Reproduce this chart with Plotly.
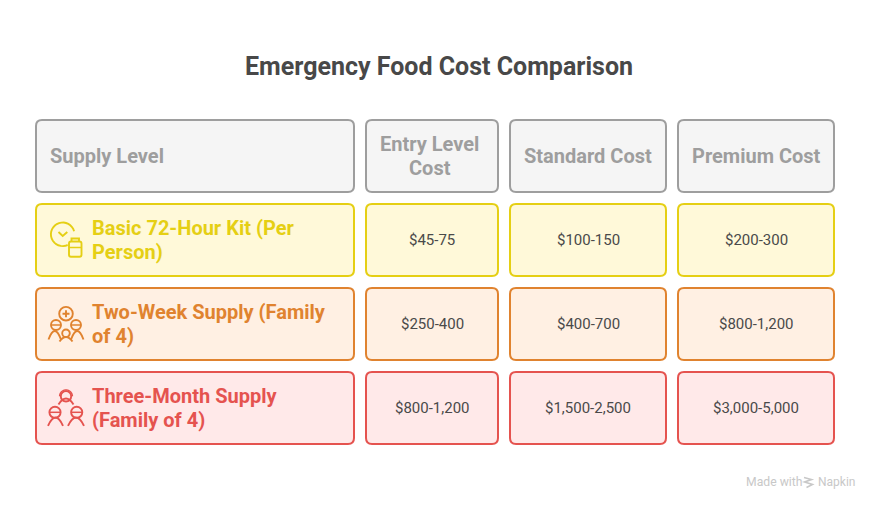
import math
import plotly.graph_objects as go

title = "Emergency Food Cost Comparison"
headers = ["Supply Level", "Entry Level<br>Cost", "Standard Cost", "Premium Cost"]
supply_levels = ["Basic 72-Hour Kit (Per<br>Person)", "Two-Week Supply (Family<br>of 4)", "Three-Month Supply<br>(Family of 4)"]
entry_cost = ["$45-75", "$250-400", "$800-1,200"]
standard_cost = ["$100-150", "$400-700", "$1,500-2,500"]
premium_cost = ["$200-300", "$800-1,200", "$3,000-5,000"]

W, H = 878, 510
COLS = [(36, 354), (366, 498), (510, 666), (678, 834)]
ROWS = [(120, 192), (204, 276), (288, 360), (372, 444)]
STYLES = [("#9e9e9e", "#f5f5f5"), ("#e5cf14", "#fff9d9"), ("#e0832f", "#fff0e3"), ("#e5534f", "#ffe9e9")]
FONT = "Roboto, sans-serif"
SW = 1.9
shapes, notes = [], []


def rrect(x0, y0, x1, y1, r=6):
    return (f"M{x0+r},{y0} L{x1-r},{y0} Q{x1},{y0} {x1},{y0+r} L{x1},{y1-r} Q{x1},{y1} {x1-r},{y1} "
            f"L{x0+r},{y1} Q{x0},{y1} {x0},{y1-r} L{x0},{y0+r} Q{x0},{y0} {x0+r},{y0} Z")


def box(col, row):
    line, fill = STYLES[row]
    x0, x1 = COLS[col]
    y0, y1 = ROWS[row]
    shapes.append(dict(type="path", path=rrect(x0, y0, x1, y1), line=dict(color=line, width=2), fillcolor=fill, layer="below"))


def text(x, y, s, size, color, bold=False, anchor="center"):
    notes.append(dict(x=x, y=y, text=f"<b>{s}</b>" if bold else s, showarrow=False, xanchor=anchor, yanchor="middle",
                      font=dict(family=FONT, size=size, color=color), align=anchor))


def stroke(path, color, w=SW):
    shapes.append(dict(type="path", path=path, line=dict(color=color, width=w), layer="above"))


def circ(cx, cy, r, color, w=SW):
    shapes.append(dict(type="circle", x0=cx-r, x1=cx+r, y0=cy-r, y1=cy+r, line=dict(color=color, width=w), layer="above"))


def arc(cx, cy, r, a0, a1, color, w=SW):
    n = 24
    pts = [(cx + r*math.cos(math.radians(a0+(a1-a0)*i/n)), cy + r*math.sin(math.radians(a0+(a1-a0)*i/n))) for i in range(n+1)]
    stroke("M" + " L".join(f"{x:.2f},{y:.2f}" for x, y in pts), color, w)


def shoulders(x0, x1, y, peak, color):
    stroke(f"M{x0},{y} Q{(x0+x1)/2},{2*peak-y} {x1},{y}", color)


def head(cx, cy, r, color):
    circ(cx, cy, r, color)
    stroke(f"M{cx-r},{cy} L{cx+r},{cy}", color, 1.5)


def icon_clock(c):
    arc(62.7, 234.3, 11.8, 65, 345, c)
    stroke("M58.5,232 L62.7,236 L67.3,232", c)
    stroke(rrect(69, 241.5, 81.5, 256.7, 2), c)
    stroke("M71.5,241.5 L71.5,238.5 L79,238.5 L79,241.5", c)
    stroke("M69,247.5 L81.5,247.5", c, 1.5)


def icon_family_plus(c):
    circ(66, 313.7, 6.8, c)
    stroke("M62.5,313.7 L69.5,313.7 M66,310.2 L66,317.2", c)
    head(56, 325, 5, c)
    head(76, 325, 5, c)
    circ(66, 333.3, 3.8, c)
    shoulders(48.5, 61, 339.5, 331, c)
    shoulders(71, 83.5, 339.5, 331, c)
    shoulders(59.5, 72.5, 341.5, 337, c)


def icon_family(c):
    circ(66, 396.3, 5.2, c)
    arc(66, 396.3, 6.4, 180, 360, c, 1.4)
    shoulders(58.5, 73.5, 404.5, 398.5, c)
    head(55, 412.3, 5.6, c)
    head(76.7, 412.3, 5.6, c)
    shoulders(48, 63, 425.8, 417.5, c)
    shoulders(68, 84, 425.8, 417.5, c)


# header row
for c, label in enumerate(headers):
    box(c, 0)
    cx = sum(COLS[c]) / 2
    cy = sum(ROWS[0]) / 2
    if c == 0:
        text(48, cy, label, 20, "#9e9e9e", True, "left")
    else:
        lines = label.split("<br>")
        for i, part in enumerate(lines):
            text(cx - (2.5 if len(lines) > 1 else 0), cy + (i - (len(lines)-1)/2) * 24, part, 20, "#9e9e9e", True)

# body rows
for r, label in enumerate(supply_levels):
    row = r + 1
    color = STYLES[row][0]
    cy = sum(ROWS[row]) / 2
    for c, vals in enumerate([None, entry_cost, standard_cost, premium_cost]):
        box(c, row)
        if vals:
            text(sum(COLS[c]) / 2, cy, vals[r], 15, "#4a4a4a")
    for i, part in enumerate(label.split("<br>")):
        text(90, cy + (i - 0.5) * 24, part, 20, color, True, "left")

icon_clock(STYLES[1][0])
icon_family_plus(STYLES[2][0])
icon_family(STYLES[3][0])

text(439, 66.5, title, 25, "#484848", True)

# watermark
mark = "#c8c8c8"
text(744, 482, "Made with", 12.2, mark, False, "left")
text(816, 482, "Napkin", 12, mark, False, "left")
stroke("M804,477.5 L811.5,479.5 L804.5,482 L812.5,484.5 L806.5,487.5", mark, 1.6)

fig = go.Figure()
fig.update_layout(
    width=W, height=H, margin=dict(l=0, r=0, t=0, b=0),
    paper_bgcolor="white", plot_bgcolor="white", showlegend=False,
    xaxis=dict(range=[0, W], visible=False, fixedrange=True),
    yaxis=dict(range=[H, 0], visible=False, fixedrange=True),
    shapes=shapes, annotations=notes,
)
fig.write_html("out.html", config={"displayModeBar": False},
               post_script="document.body.style.margin='0';document.documentElement.style.overflow='hidden';")
